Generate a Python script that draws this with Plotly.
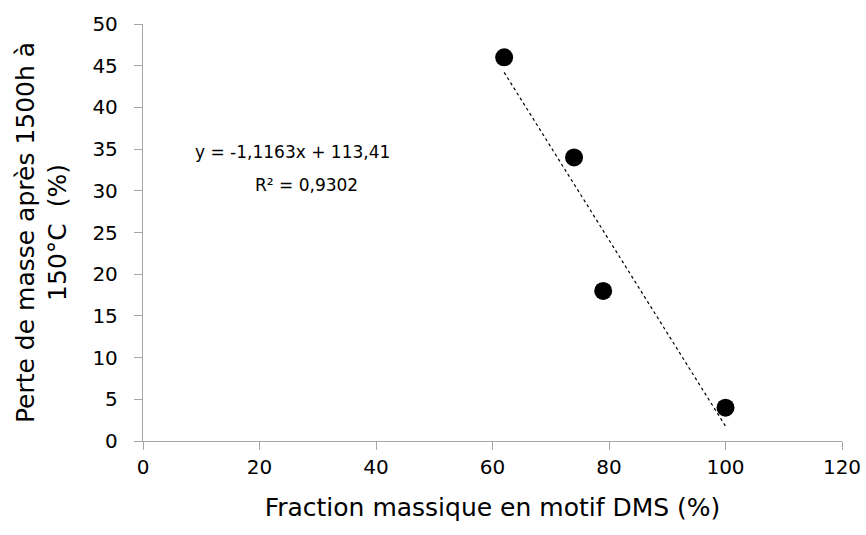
import numpy as np
import plotly.graph_objects as go

# Data
fraction_dms = [62, 74, 79, 100]
perte_masse = [46, 34, 18, 4]
x_ticks = [0, 20, 40, 60, 80, 100, 120]
y_ticks = [0, 5, 10, 15, 20, 25, 30, 35, 40, 45, 50]
eq_text = "y = -1,1163x + 113,41"
r2_text = "R² = 0,9302"

slope, intercept = np.polyfit(fraction_dms, perte_masse, 1)
x_fit = [min(fraction_dms), max(fraction_dms)]
y_fit = [slope * v + intercept for v in x_fit]

font_family = "DejaVu Sans, sans-serif"
axis_col = "#a6a6a6"

fig = go.Figure()
fig.add_trace(go.Scatter(x=x_fit, y=y_fit, mode="lines",
                         line=dict(color="black", width=1.2, dash="dot"),
                         showlegend=False, hoverinfo="skip"))
fig.add_trace(go.Scatter(x=fraction_dms, y=perte_masse, mode="markers",
                         marker=dict(color="black", size=18),
                         showlegend=False))

fig.add_annotation(x=25.7, y=34.6, xref="x", yref="y", text=eq_text,
                   showarrow=False, font=dict(size=17, color="black", family=font_family))
fig.add_annotation(x=28.1, y=30.7, xref="x", yref="y", text=r2_text,
                   showarrow=False, font=dict(size=17, color="black", family=font_family))

fig.update_layout(
    width=866, height=535,
    margin=dict(l=143, r=24, t=24, b=94),
    paper_bgcolor="white", plot_bgcolor="white",
    font=dict(family=font_family, color="black"),
    xaxis=dict(range=[0, 120], tickvals=x_ticks, showgrid=False, zeroline=False,
               showline=True, linecolor=axis_col, linewidth=1.3,
               ticks="outside", ticklen=8, tickcolor=axis_col, tickwidth=1.3,
               tickfont=dict(size=20), automargin=False,
               title=dict(text="Fraction massique en motif DMS (%)", font=dict(size=25), standoff=20)),
    yaxis=dict(range=[0, 50], tickvals=y_ticks, showgrid=False, zeroline=False,
               showline=True, linecolor=axis_col, linewidth=1.3,
               ticks="outside", ticklen=8, tickcolor=axis_col, tickwidth=1.3,
               tickfont=dict(size=20), automargin=False, ticklabelstandoff=12,
               title=dict(text="Perte de masse après 1500h à<br>150°C  (%)", font=dict(size=25), standoff=18)),
)

fig.write_html("out.html", config={"displayModeBar": False},
               post_script="document.body.style.margin='0';")
